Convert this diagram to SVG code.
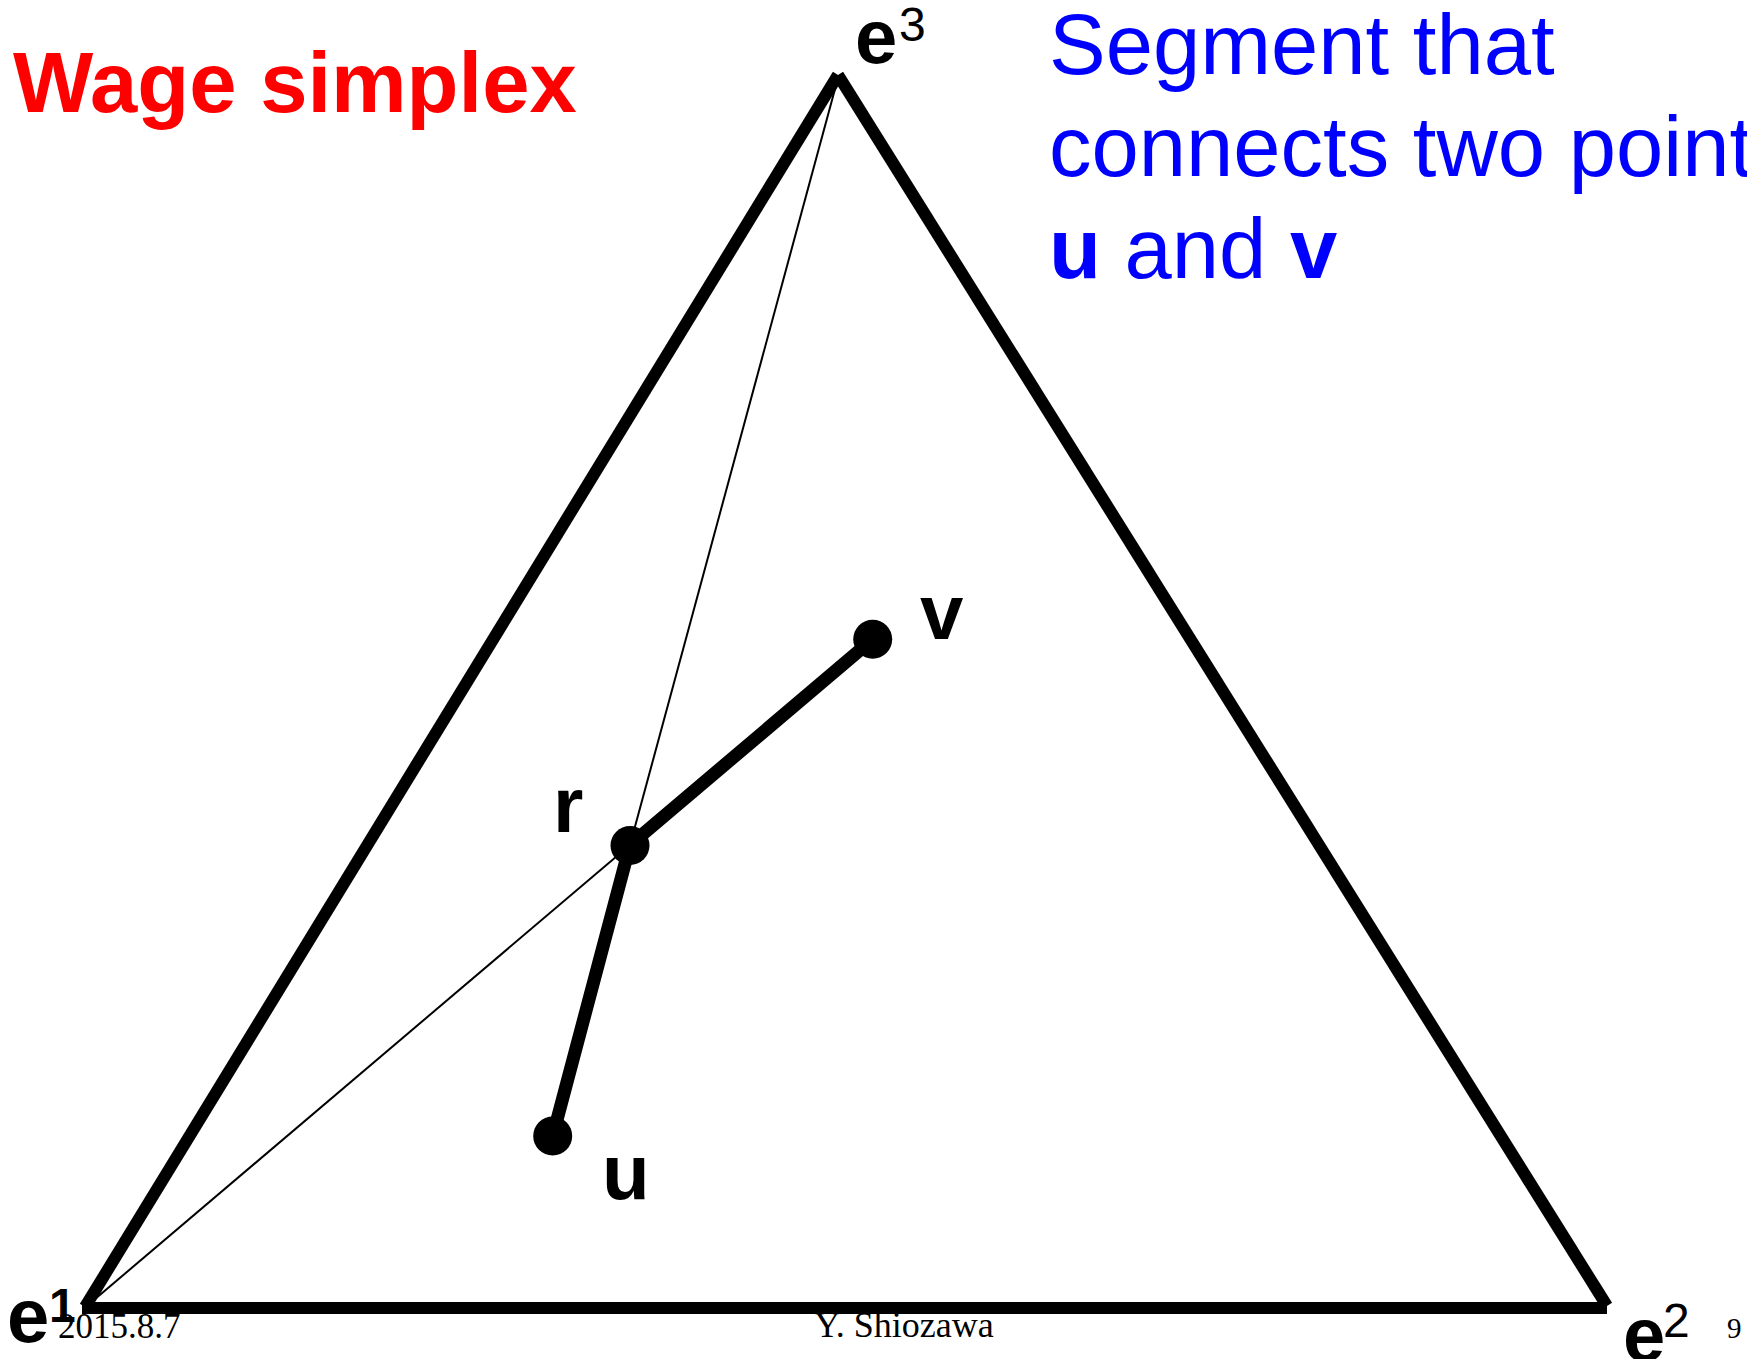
<svg xmlns="http://www.w3.org/2000/svg" width="1747" height="1359" viewBox="0 0 1747 1359">
<style>
.edge{stroke:#000;stroke-width:12;fill:none;stroke-linecap:butt}
.thin{stroke:#000;stroke-width:2;fill:none}
.thick{stroke:#000;stroke-width:13;fill:none;stroke-linecap:round}
.dot{fill:#000}
.lbl{font-family:"Liberation Sans",Arial,sans-serif;font-weight:bold;fill:#000}
.sup{font-family:"Liberation Sans",Arial,sans-serif;fill:#000}
.foot{font-family:"Liberation Serif","Times New Roman",serif;fill:#000}
.blue{font-family:"Liberation Sans",Arial,sans-serif;font-size:85px;fill:#0000FF}
</style>
<rect width="1747" height="1359" fill="#fff"/>
<g id="title">
<text x="13" y="112" font-family="Liberation Sans, Arial, sans-serif" font-weight="bold" font-size="85" fill="#FF0000">Wage simplex</text>
</g>
<g id="note">
<text class="blue" x="1049" y="74">Segment that</text>
<text class="blue" x="1049" y="176">connects two points</text>
<text class="blue" x="1049" y="278"><tspan font-weight="bold">u</tspan> and <tspan font-weight="bold">v</tspan></text>
</g>
<g id="footer">
<text class="foot" x="58" y="1338" font-size="35">2015.8.7</text>
<text class="foot" x="904" y="1337" font-size="36" text-anchor="middle">Y. Shiozawa</text>
<text class="foot" x="1727" y="1338" font-size="29">9</text>
</g>
<g id="connectors">
<line class="edge" x1="82" y1="1308" x2="1607" y2="1308"/>
<line class="edge" x1="85" y1="1307" x2="838" y2="75"/>
<line class="edge" x1="838" y1="75" x2="1607" y2="1306"/>
<line class="thin" x1="88" y1="1305" x2="630" y2="845"/>
<line class="thin" x1="838" y1="78" x2="630" y2="845"/>
<line class="thick" x1="630" y1="845" x2="872.7" y2="639.3"/>
<line class="thick" x1="630" y1="845" x2="552.7" y2="1136"/>
</g>
<g id="e1">
<text class="lbl" x="7" y="1342" font-size="76">e</text>
<text class="lbl" x="49" y="1322" font-size="48">1</text>
</g>
<g id="e2">
<text class="lbl" x="1623" y="1361" font-size="76">e</text>
<text class="sup" x="1663" y="1337" font-size="48">2</text>
</g>
<g id="e3">
<text class="lbl" x="855" y="63" font-size="76">e</text>
<text class="sup" x="899" y="41" font-size="48">3</text>
</g>
<g id="v">
<circle class="dot" cx="872.7" cy="639.3" r="19.5"/>
<text class="lbl" x="920" y="639" font-size="78">v</text>
</g>
<g id="r">
<circle class="dot" cx="630" cy="845.5" r="19.5"/>
<text class="lbl" x="553" y="832" font-size="78">r</text>
</g>
<g id="u">
<circle class="dot" cx="552.7" cy="1136" r="19.5"/>
<text class="lbl" x="602" y="1199" font-size="78">u</text>
</g>
</svg>
